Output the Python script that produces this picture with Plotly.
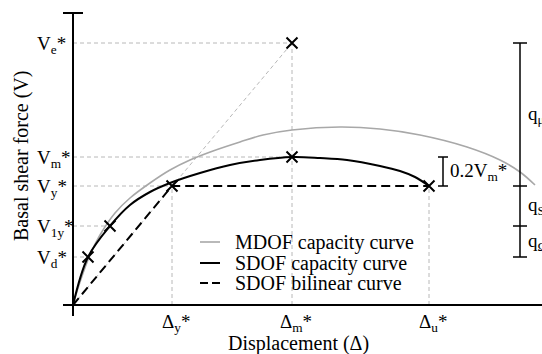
import plotly.graph_objects as go

# ---- key values (arbitrary units) ----
delta_y, delta_m, delta_u = 0.99, 2.19, 3.56
V_e, V_m, V_y, V_1y, V_d = 2.62, 1.48, 1.19, 0.79, 0.48
d_d, d_1y = 0.15, 0.37

# SDOF capacity curve
sdof_x = [0, 0.15, 0.37, 0.57, 0.77, 0.97, 1.27, 1.57, 1.87, 2.19, 2.47, 2.74, 3.07, 3.27, 3.42, 3.56]
sdof_y = [0, 0.48, 0.79, 1.00, 1.13, 1.22, 1.32, 1.40, 1.45, 1.48, 1.47, 1.45, 1.39, 1.34, 1.28, 1.19]

# MDOF capacity curve
mdof_x = [0, 0.07, 0.17, 0.27, 0.42, 0.57, 0.77, 0.97, 1.17, 1.40, 1.67, 1.90, 2.19, 2.67, 3.07, 3.47, 3.94, 4.27, 4.47, 4.62]
mdof_y = [0, 0.23, 0.50, 0.70, 0.92, 1.07, 1.22, 1.35, 1.45, 1.54, 1.63, 1.70, 1.75, 1.78, 1.76, 1.70, 1.58, 1.45, 1.33, 1.20]

# bilinear curve
bil_x = [0, delta_y, delta_u]
bil_y = [0, V_y, V_y]

# marked points
mark_x = [d_d, d_1y, delta_y, delta_m, delta_m, delta_u]
mark_y = [V_d, V_1y, V_y, V_m, V_e, V_y]

y_tick_vals = [V_e, V_m, V_y, V_1y, V_d]
y_tick_text = ["V<sub>e</sub>*", "V<sub>m</sub>*", "V<sub>y</sub>*", "V<sub>1y</sub>*", "V<sub>d</sub>*"]
x_tick_vals = [delta_y, delta_m, delta_u]
x_tick_text = ["Δ<sub>y</sub>*", "Δ<sub>m</sub>*", "Δ<sub>u</sub>*"]

legend_names = ["MDOF capacity curve", "SDOF capacity curve", "SDOF bilinear curve"]
bracket_text = ["q<sub>μ</sub>", "q<sub>S</sub>", "q<sub>Ω</sub>"]

FONT = "Liberation Serif"
GREY = "#a8a8a8"

fig = go.Figure()

# guide lines
gx, gy = [], []
for (x0, y0, x1, y1) in [
    (0, V_e, delta_m, V_e), (0, V_m, delta_m, V_m), (0, V_y, delta_y, V_y),
    (0, V_1y, d_1y, V_1y), (0, V_d, d_d, V_d),
    (delta_y, 0, delta_y, V_y), (delta_m, 0, delta_m, V_e), (delta_u, 0, delta_u, V_y),
    (0, 0, delta_m, V_e)]:
    gx += [x0, x1, None]
    gy += [y0, y1, None]
fig.add_trace(go.Scatter(x=gx, y=gy, mode="lines",
                         line=dict(color="#b8b8b8", width=1, dash="4px,3px"),
                         hoverinfo="skip", showlegend=False))

fig.add_trace(go.Scatter(x=mdof_x, y=mdof_y, mode="lines", line=dict(color=GREY, width=1.6, shape="spline"),
                         showlegend=False))
fig.add_trace(go.Scatter(x=sdof_x, y=sdof_y, mode="lines", line=dict(color="black", width=2, shape="spline"),
                         showlegend=False))
fig.add_trace(go.Scatter(x=bil_x, y=bil_y, mode="lines", line=dict(color="black", width=2, dash="9px,5px"),
                         showlegend=False))
fig.add_trace(go.Scatter(x=mark_x, y=mark_y, mode="markers",
                         marker=dict(symbol="x-thin", size=11, line=dict(color="black", width=2)),
                         showlegend=False))

shapes = []
def L(x0, y0, x1, y1, color="black", width=2, dash=None):
    d = dict(type="line", xref="x", yref="y", x0=x0, y0=y0, x1=x1, y1=y1,
             line=dict(color=color, width=width))
    if dash:
        d["line"]["dash"] = dash
    shapes.append(d)

# axes
L(0, -0.11, 0, 2.92)
L(-0.10, 2.92, 0.10, 2.92)
L(-0.10, 0, 4.69, 0)

# 0.2Vm bracket
L(3.70, V_y, 3.70, V_m, width=1.5)
L(3.65, V_m, 3.75, V_m, width=1.5)
L(3.65, V_y, 3.75, V_y, width=1.5)

# right bracket
L(4.47, V_d, 4.47, V_e, width=1.5)
for v in [V_e, V_y, V_1y, V_d]:
    L(4.40, v, 4.54, v, width=1.5)

# legend samples
leg_y = [0.63, 0.42, 0.22]
L(1.27, leg_y[0], 1.47, leg_y[0], color=GREY, width=1.6)
L(1.27, leg_y[1], 1.47, leg_y[1], width=2)
L(1.27, leg_y[2], 1.47, leg_y[2], width=2, dash="8px,4px")

ann = []
for v, t in zip(y_tick_vals, y_tick_text):
    ann.append(dict(x=-0.38, y=v, xref="x", yref="y", text=t, showarrow=False,
                    xanchor="left", yanchor="middle", yshift=-2, font=dict(family=FONT, size=19, color="black")))
for v, t in zip(x_tick_vals, x_tick_text):
    ann.append(dict(x=v + 0.04, y=-0.18, xref="x", yref="y", text=t, showarrow=False,
                    xanchor="center", yanchor="middle", font=dict(family=FONT, size=19, color="black")))
for yy, t in zip(leg_y, legend_names):
    ann.append(dict(x=1.60, y=yy, xref="x", yref="y", text=t, showarrow=False,
                    xanchor="left", yanchor="middle", font=dict(family=FONT, size=20, color="black")))
ann.append(dict(x=3.75, y=(V_y + V_m) / 2, xref="x", yref="y", text="0.2V<sub>m</sub>*", showarrow=False,
                xanchor="left", yanchor="middle", font=dict(family=FONT, size=19, color="black")))
for (a, b), t in zip([(V_e, V_y), (V_y, V_1y), (V_1y, V_d)], bracket_text):
    ann.append(dict(x=4.53, y=(a + b) / 2, xref="x", yref="y", text=t, showarrow=False,
                    xanchor="left", yanchor="middle", font=dict(family=FONT, size=19, color="black")))
ann.append(dict(x=2.25, y=-0.385, xref="x", yref="y", text="Displacement (Δ)", showarrow=False,
                xanchor="center", yanchor="middle", font=dict(family=FONT, size=20, color="black")))
ann.append(dict(x=-0.52, y=1.49, xref="x", yref="y", text="Basal shear force (V)", showarrow=False,
                textangle=-90, xanchor="center", yanchor="middle", font=dict(family=FONT, size=20, color="black")))

fig.update_layout(
    width=542, height=354, margin=dict(l=0, r=0, t=0, b=0),
    paper_bgcolor="white", plot_bgcolor="white",
    xaxis=dict(range=[-0.73, 4.69], visible=False, fixedrange=True),
    yaxis=dict(range=[-0.49, 3.05], visible=False, fixedrange=True),
    shapes=shapes, annotations=ann, showlegend=False,
)

fig.write_html("out.html")
